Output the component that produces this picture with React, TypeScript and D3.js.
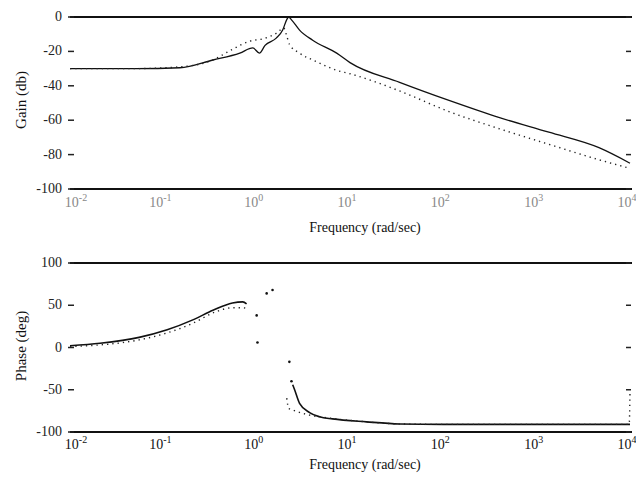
import React from "react";
import * as d3 from "d3";

// gain (db) vs frequency (rad/sec)
const gainSolidFreq = [0.01, 0.05, 0.15, 0.34, 0.66, 0.91, 1.07, 1.23, 1.62, 1.9, 2.1, 2.2, 2.35, 2.88, 3.98, 7.2, 10, 34, 115, 400, 1350, 4650, 10000];
const gainSolid = [-30, -30, -29.5, -25, -21, -18, -21, -16.5, -12.3, -7.6, -1.5, 0, -1.5, -7.6, -13.5, -21, -26.5, -38, -48.5, -58.5, -67, -76, -85];
const gainDotFreq = [0.01, 0.05, 0.15, 0.34, 0.52, 0.85, 1.2, 1.62, 1.95, 2.1, 2.25, 2.88, 4.4, 7.2, 10, 34, 115, 400, 1350, 4650, 10000];
const gainDot = [-30, -30, -29, -25, -19.5, -14, -12.5, -9.5, -6.4, -11, -16, -21, -26, -31, -33, -43, -55, -65, -74, -83, -88];

// phase (deg)
const phaseLowFreq = [0.01, 0.021, 0.055, 0.11, 0.21, 0.34, 0.55, 0.71, 0.78];
const phaseLow = [2, 5, 12, 21, 33, 44, 52.7, 54, 51.5];
const phaseJumpFreq = [1.0, 1.02, 1.28, 1.48, 2.24, 2.36];
const phaseJump = [38, 6, 64, 68, -17, -40];
const phaseHighFreq = [2.43, 2.55, 2.88, 3.69, 4.72, 6.5, 15, 34, 100, 400, 10000];
const phaseHigh = [-44, -50, -66, -77, -82, -84.5, -88, -90.5, -91, -91, -91];
const phaseDotLowFreq = [0.01, 0.055, 0.21, 0.36, 0.55, 0.71, 0.8];
const phaseDotLow = [1, 9, 29, 42, 47, 47, 46];
const phaseDotHighFreq = [2.1, 2.2, 2.43, 3.69, 6.5, 15, 34, 100, 9800, 10000];
const phaseDotHigh = [-60, -72, -74, -80, -84, -88, -90.5, -91, -91, -52];

const decades = [-2, -1, 0, 1, 2, 3, 4];
const gainTicks = [0, -20, -40, -60, -80, -100];
const phaseTicks = [100, 50, 0, -50, -100];

const FONT = "'Liberation Serif', 'DejaVu Serif', serif";

const zip = (xs: number[], ys: number[]) => xs.map((x, i) => [x, ys[i]] as [number, number]);

const x = d3.scaleLog().domain([0.01, 10000]).range([70, 630]);
const yGain = d3.scaleLinear().domain([-100, 0]).range([189, 17]);
const yPhase = d3.scaleLinear().domain([-100, 100]).range([432, 263]);

const Panel = ({ y, ticks, label, labelY, tickLabelY, axisLabelY, faint }: any) => {
  const [top, bottom] = [y(y.domain()[1]), y(y.domain()[0])];
  return (
    <g>
      <line x1={70} x2={632} y1={top} y2={top} stroke="#111" strokeWidth={2} />
      <line x1={70} x2={632} y1={bottom} y2={bottom} stroke="#111" strokeWidth={2} />
      {ticks.map((t: number) => (
        <g key={t}>
          <text x={62} y={y(t) + 4} textAnchor="end" fontSize={14} fontFamily={FONT} fill="#222">
            {t}
          </text>
          <line x1={68} x2={74} y1={y(t)} y2={y(t)} stroke="#222" strokeWidth={1.5} />
          <line x1={626} x2={631} y1={y(t)} y2={y(t)} stroke="#222" strokeWidth={1.5} />
        </g>
      ))}
      {decades.map((d) => (
        <text key={d} x={x(Math.pow(10, d)) + (d === -2 ? 6 : -3)} y={tickLabelY} textAnchor="middle" fontSize={14} fontFamily={FONT} fill={faint ? "#888" : "#111"}>
          10
          <tspan fontSize={10} dy={-6}>
            {d < 0 ? `-${-d}` : d}
          </tspan>
        </text>
      ))}
      <text x={365} y={axisLabelY} textAnchor="middle" fontSize={14} fontFamily={FONT} fill="#111">
        Frequency (rad/sec)
      </text>
      <text transform={`translate(26,${labelY}) rotate(-90)`} textAnchor="middle" fontSize={15} fontFamily={FONT} fill="#111">
        {label}
      </text>
    </g>
  );
};

export default function App() {
  const lineG = d3.line<[number, number]>().x((d) => x(d[0])).y((d) => yGain(d[1])).curve(d3.curveMonotoneX);
  const lineP = d3.line<[number, number]>().x((d) => x(d[0])).y((d) => yPhase(d[1])).curve(d3.curveMonotoneX);
  return (
    <svg width={636} height={478} style={{ position: "absolute", left: 0, top: 0, background: "#fff" }}>
      <Panel y={yGain} ticks={gainTicks} label="Gain (db)" labelY={100} tickLabelY={207} axisLabelY={232} faint />
      <Panel y={yPhase} ticks={phaseTicks} label="Phase (deg)" labelY={346} tickLabelY={449} axisLabelY={469} />

      <path d={lineG(zip(gainSolidFreq, gainSolid)) || ""} fill="none" stroke="#111" strokeWidth={1.3} />
      <path d={lineG(zip(gainDotFreq, gainDot)) || ""} fill="none" stroke="#222" strokeWidth={1.4} strokeDasharray="1.3 4" />

      <path d={lineP(zip(phaseLowFreq, phaseLow)) || ""} fill="none" stroke="#111" strokeWidth={1.6} />
      <path d={lineP(zip(phaseHighFreq, phaseHigh)) || ""} fill="none" stroke="#111" strokeWidth={1.6} />
      <path d={lineP(zip(phaseDotLowFreq, phaseDotLow)) || ""} fill="none" stroke="#222" strokeWidth={1.4} strokeDasharray="1.3 4" />
      <path d={lineP(zip(phaseDotHighFreq, phaseDotHigh)) || ""} fill="none" stroke="#222" strokeWidth={1.4} strokeDasharray="1.3 4" />
      {zip(phaseJumpFreq, phaseJump).map((d, i) => (
        <circle key={i} cx={x(d[0])} cy={yPhase(d[1])} r={1.3} fill="#111" />
      ))}
    </svg>
  );
}
